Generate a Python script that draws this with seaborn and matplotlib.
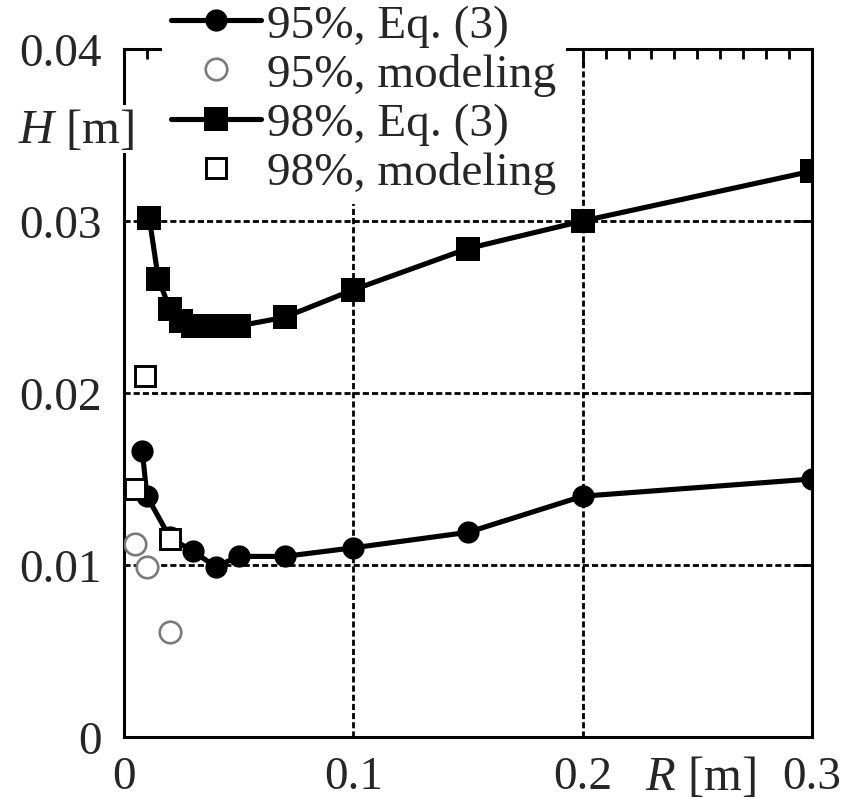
import numpy as np
import pandas as pd
import matplotlib
matplotlib.use("Agg")
import matplotlib.pyplot as plt
from matplotlib.ticker import MultipleLocator, FixedLocator, FixedFormatter
import seaborn as sns

# ---- data ----
r95_eq = [0.008, 0.010, 0.020, 0.030, 0.040, 0.050, 0.070, 0.100, 0.150, 0.200, 0.300]
h95_eq = [0.0166, 0.0140, 0.0116, 0.0108, 0.0099, 0.0105, 0.0105, 0.0110, 0.0119, 0.0140, 0.0150]

r98_eq = [0.011, 0.015, 0.020, 0.025, 0.030, 0.040, 0.050, 0.070, 0.100, 0.150, 0.200, 0.300]
h98_eq = [0.0302, 0.0266, 0.0249, 0.0242, 0.0239, 0.0239, 0.0239, 0.0244, 0.0260, 0.0284, 0.0300, 0.0329]

r95_mod = [0.005, 0.010, 0.020]
h95_mod = [0.0112, 0.0099, 0.0061]

r98_mod = [0.005, 0.009, 0.020]
h98_mod = [0.0144, 0.0210, 0.0115]

labels = ["95%, Eq. (3)", "95%, modeling", "98%, Eq. (3)", "98%, modeling"]
x_ticks = [0, 0.1, 0.2, 0.3]
x_ticklabels = ["0", "0.1", "0.2", "0.3"]
y_ticks = [0, 0.01, 0.02, 0.03, 0.04]
y_ticklabels = ["0", "0.01", "0.02", "0.03", "0.04"]

sns.set_style("white")
plt.rcParams["font.family"] = ["Liberation Serif", "DejaVu Serif"]
plt.rcParams["mathtext.fontset"] = "custom"
plt.rcParams["mathtext.rm"] = "Liberation Serif"
plt.rcParams["mathtext.it"] = "Liberation Serif:italic"

W, H = 855, 803
fig = plt.figure(figsize=(W / 100, H / 100), dpi=100)
ax = fig.add_axes([124 / W, 1 - 738 / H, (812 - 124) / W, (738 - 50) / H])

d95 = pd.DataFrame({"R": r95_eq, "H": h95_eq})
d98 = pd.DataFrame({"R": r98_eq, "H": h98_eq})
m95 = pd.DataFrame({"R": r95_mod, "H": h95_mod})
m98 = pd.DataFrame({"R": r98_mod, "H": h98_mod})

lw = 3.7
sns.lineplot(data=d95, x="R", y="H", ax=ax, sort=False, estimator=None, color="black",
             lw=lw, marker="o", markersize=16, markeredgewidth=0, label=labels[0], zorder=3)
sns.lineplot(data=d98, x="R", y="H", ax=ax, sort=False, estimator=None, color="black",
             lw=lw, marker="s", markersize=17.5, markeredgewidth=0, label=labels[2], zorder=3)
sns.lineplot(data=m95, x="R", y="H", ax=ax, sort=False, estimator=None, linestyle="",
             marker="o", markersize=15.5, markerfacecolor="white", markeredgecolor="#7a7a7a",
             markeredgewidth=1.9, label=labels[1], zorder=4)
sns.lineplot(data=m98, x="R", y="H", ax=ax, sort=False, estimator=None, linestyle="",
             marker="s", markersize=14.5, markerfacecolor="white", markeredgecolor="black",
             markeredgewidth=2.1, label=labels[3], zorder=4)

ax.set_xlim(0, 0.3)
ax.set_ylim(0, 0.04)
ax.set_xlabel("")
ax.set_ylabel("")

ax.xaxis.set_major_locator(FixedLocator(x_ticks))
ax.xaxis.set_major_formatter(FixedFormatter(x_ticklabels))
ax.xaxis.set_minor_locator(MultipleLocator(0.01))
ax.yaxis.set_major_locator(FixedLocator(y_ticks))
ax.yaxis.set_major_formatter(FixedFormatter(y_ticklabels))

ax.grid(True, which="major", color="black", lw=2.0, ls=(0, (2.2, 1.1)))
ax.set_axisbelow(True)

for s in ax.spines.values():
    s.set_linewidth(2.2)
    s.set_color("black")
    s.set_visible(True)

ax.tick_params(which="both", direction="in", top=True, right=True, color="black", width=2.0)
ax.tick_params(which="major", length=12, labelsize=34)
ax.tick_params(axis="y", which="major", pad=16)
ax.tick_params(axis="x", which="major", pad=13)
ax.tick_params(which="minor", length=7)

# axis labels with white background
fig.text(18 / W, 1 - 130 / H, r"$H$ [m]", ha="left", va="center", fontsize=35,
         bbox=dict(facecolor="white", edgecolor="none", pad=1))
fig.text(700 / W, 1 - 778 / H, r"$R$ [m]", ha="center", va="center", fontsize=35,
         bbox=dict(facecolor="white", edgecolor="none", pad=1))

handles, labs = ax.get_legend_handles_labels()
order = [labs.index(l) for l in labels]
leg = ax.legend([handles[i] for i in order], [labs[i] for i in order],
                loc="upper left", bbox_to_anchor=(162 / W, 1.006), bbox_transform=fig.transFigure,
                fontsize=34, handlelength=1.9, handletextpad=0.13, labelspacing=0.13,
                borderpad=0.2, borderaxespad=0, frameon=True, fancybox=False,
                facecolor="white", edgecolor="none", framealpha=1)
leg.set_zorder(10)

fig.savefig("out.png", dpi=100)
